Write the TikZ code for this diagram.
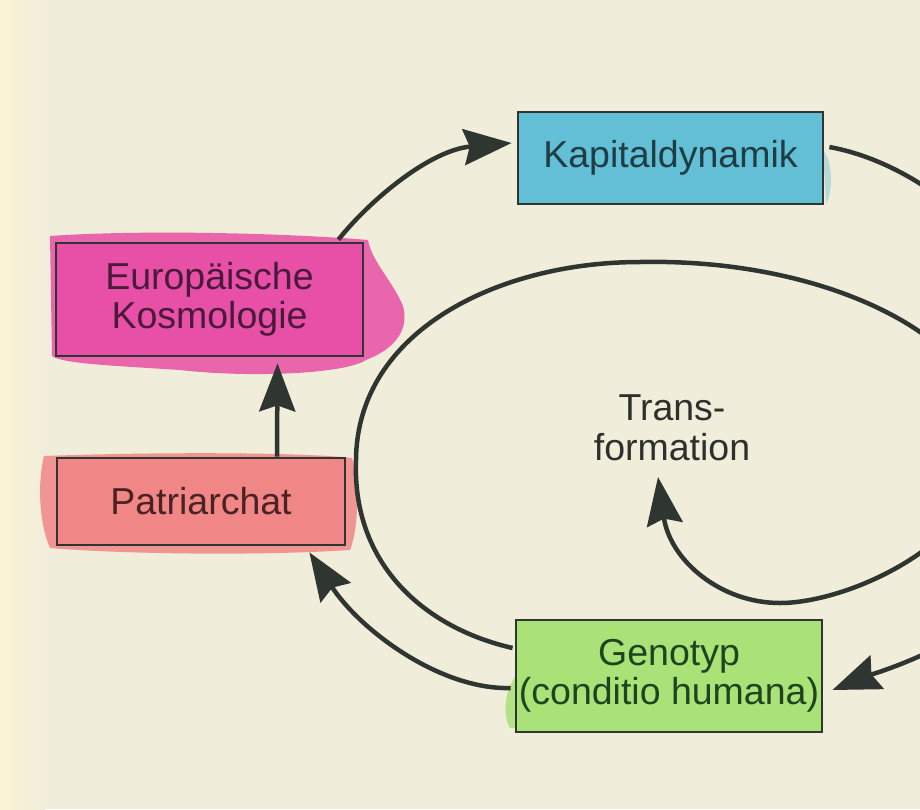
\documentclass[tikz,border=0pt]{standalone}
\usepackage{fontspec}
\setmainfont{Liberation Sans}
\usetikzlibrary{arrows.meta,calc}
\definecolor{bg}{HTML}{F1EDDB}
\definecolor{bgleft}{HTML}{FAF4D2}
\definecolor{lc}{HTML}{2F3531}
\definecolor{kapfill}{HTML}{62BFD6}
\definecolor{kosfill}{HTML}{E84FA6}
\definecolor{patfill}{HTML}{F08686}
\definecolor{genfill}{HTML}{A9E276}
\definecolor{kaptext}{HTML}{1F3D44}
\definecolor{kostext}{HTML}{4A1A3A}
\definecolor{pattext}{HTML}{4A2222}
\definecolor{gentext}{HTML}{1F4520}
\definecolor{trtext}{HTML}{2D302D}
\begin{document}
\begin{tikzpicture}[x=1pt,y=-1pt,
  box/.style={draw=lc, line width=2.8pt, inner sep=0pt, align=center,
    font=\fontsize{37.5}{39}\selectfont},
  conn/.style={draw=lc, line width=4.5pt},
  tip/.style={-{Stealth[length=48pt,width=36pt,inset=6pt]}},
  blob/.style={opacity=0.85}]
\useasboundingbox (0,0) rectangle (920,809);
\clip (0,0) rectangle (920,809);
\fill[bg] (0,0) rectangle (920,809);
\shade[left color=bgleft, right color=bg] (0,0) rectangle (45,809);

% watercolour bleeds
\fill[kosfill, blob] (50,236) .. controls (150,229) and (300,234) .. (368,240)
  .. controls (372,262) and (392,280) .. (403,306)
  .. controls (410,332) and (392,350) .. (366,360)
  .. controls (345,374) and (250,378) .. (180,370)
  .. controls (120,366) and (62,364) .. (52,356) -- cycle;
\fill[patfill, blob] (44,456) .. controls (150,452) and (300,452) .. (352,458)
  .. controls (360,490) and (358,530) .. (350,550)
  .. controls (260,556) and (120,554) .. (50,548)
  .. controls (38,520) and (38,480) .. (44,456) -- cycle;
\fill[genfill, blob] (516,676) .. controls (505,690) and (502,715) .. (510,728)
  -- (520,728) -- cycle;
\fill[kapfill, opacity=0.4] (823,150) .. controls (832,160) and (834,190) .. (826,204) -- cycle;

% boxes
\node[box, fill=kapfill, text=kaptext, minimum width=305pt, minimum height=92pt]
  (kap) at (670.5,158) {Kapitaldynamik};
\node[box, fill=kosfill, text=kostext, minimum width=307pt, minimum height=113pt]
  (kos) at (209.5,299.5) {Europäische\\Kosmologie};
\node[box, fill=patfill, text=pattext, minimum width=288pt, minimum height=87pt]
  (pat) at (201,501.5) {Patriarchat};
\node[box, fill=genfill, text=gentext, minimum width=306pt, minimum height=112pt]
  (gen) at (669,676) {Genotyp\\(conditio humana)};
\node[align=center, text=trtext, inner sep=0pt, font=\fontsize{37.5}{40}\selectfont]
  (trans) at (672,428) {Trans-\\formation};
\coordinate (trtip) at (658,477);

% connectors
\draw[conn, tip] ($(kos.north east)+(-26,-2)$)
  .. controls (370,200) and (430,150) .. ($(kap.west)+(-5,-15)$);
\draw[conn, tip] ($(pat.north)+(76,0)$) -- ($(kos.south)+(68,6)$);
\draw[conn, tip] ($(kap.east)+(5,-11)$)
  .. controls (890,158) and (960,200) .. (1000,260)
  .. controls (1040,320) and (1040,560) .. (960,635)
  .. controls (920,660) and (870,675) .. ($(gen.east)+(9,14)$);
\draw[conn, tip] ($(gen.west)+(-4,12)$)
  .. controls (440,690) and (360,630) .. ($(pat.south east)+(-37,6)$);
\draw[conn, tip] ($(gen.west)+(-2,-28)$)
  .. controls (425,628) and (352,565) .. (356,460)
  .. controls (357,330) and (500,262) .. (640,262)
  .. controls (830,258) and (990,340) .. (990,440)
  .. controls (990,540) and (850,603) .. (780,603)
  .. controls (720,603) and (670,560) .. (trtip);
\end{tikzpicture}
\end{document}
